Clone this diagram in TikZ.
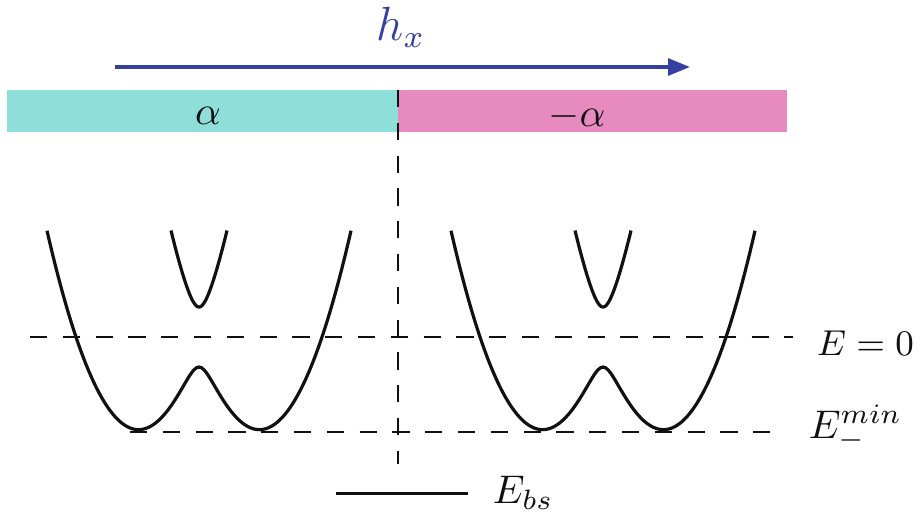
\documentclass[tikz,border=0pt]{standalone}
\usepackage{xcolor,tikz}
\usetikzlibrary{arrows.meta}
\definecolor{ink}{HTML}{111111}
\definecolor{field}{HTML}{3540A0}
\definecolor{cyanbar}{HTML}{8EDFDA}
\definecolor{pinkbar}{HTML}{E68ABF}
\newcommand{\lbl}{\fontsize{10}{12}\selectfont}
\newcommand{\elbl}{\fontsize{9.5}{11}\selectfont}
\newcommand{\fieldlbl}{\fontsize{12}{14}\selectfont}
\tikzset{
  guide/.style={ink,line width=0.4pt,dash pattern=on 4.3pt off 3.9pt},
  band/.style={ink,line width=0.8pt,smooth,samples=121},
}

\begin{document}
\begin{tikzpicture}[x=0.25pt,y=-0.25pt]
\useasboundingbox (0,0) rectangle (919,515);
\coordinate (hstart) at (115,67);
\coordinate (hend) at (690,67);
\draw[field,line width=0.9pt,-{Triangle[length=5.5pt,width=4.2pt]}] (hstart) -- (hend);
\node[inner sep=0,text=field,font=\fieldlbl,anchor=base west] (hx) at (376,40) {$h_x$};
\fill[cyanbar] (7,90) rectangle (398,132);
\fill[pinkbar] (398,90) rectangle (787,132);
\node[inner sep=0,text=ink,font=\lbl] (alphaL) at (208,116) {$\alpha$};
\node[inner sep=0,text=ink,font=\lbl] (alphaR) at (577,116) {$-\alpha$};
\draw[guide] (398,90) -- (398,464);
\draw[guide] (30,337) -- (793,337);
\draw[guide] (130,432) -- (784,432);
\draw[band] plot[domain=-15.2:15.2] ({199+10*\x},{337-(2.4*\x*\x-10*sqrt(8.655*\x*\x+9))});
\draw[band] plot[domain=-2.8:2.8] ({199+10*\x},{337-(2.4*\x*\x+10*sqrt(8.655*\x*\x+9))});
\draw[band] plot[domain=-15.2:15.2] ({603+10*\x},{337-(2.4*\x*\x-10*sqrt(8.655*\x*\x+9))});
\draw[band] plot[domain=-2.8:2.8] ({603+10*\x},{337-(2.4*\x*\x+10*sqrt(8.655*\x*\x+9))});
\node[inner sep=0,text=ink,font=\elbl,anchor=base west] (ezero) at (816,355) {$E=0$};
\node[inner sep=0,text=ink,font=\lbl,anchor=base west] (emin) at (808,438) {$E_-^{min}$};
\coordinate (bsL) at (336,493);
\coordinate (bsR) at (468,493);
\draw[ink,line width=0.75pt] (bsL) -- (bsR);
\node[inner sep=0,text=ink,font=\lbl,anchor=base west] (ebs) at (492,503) {$E_{bs}$};
\end{tikzpicture}
\end{document}
